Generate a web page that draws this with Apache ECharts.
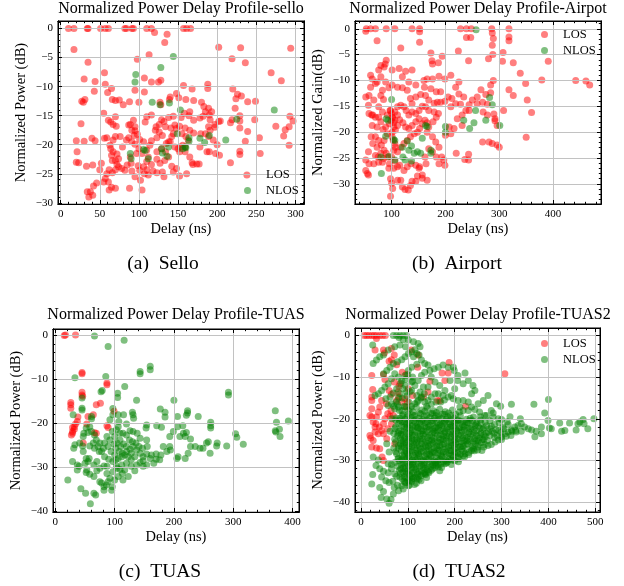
<!DOCTYPE html>
<html><head><meta charset="utf-8">
<script src="https://cdn.jsdelivr.net/npm/echarts@6/dist/echarts.min.js"></script>
<style>html,body{margin:0;padding:0;background:#fff}#c{width:624px;height:586px}</style>
</head><body><div id="c"></div><script>
// ---------------- data (delay ns, normalized power dB) ----------------
const selloLos = [[10,0],[17,0],[34,0],[35,0],[51,0],[57,0],[61,0],[82,0],[84,0],[91,0],[93,0],[110,0],[116,0],[157,0],[161,0],[166,0],
[120,-0.7],[136,-1.0],[133,-2.4],[17,-3.6],[113,-4.5],[98,-5.3],[35,-5.8],[202,-3.2],[230,-3.3],[294,-3.4],[219,-5.2],[236,-5.9],[269,-7.6],[282,-9.0],[56,-7.6],[30,-8.7],[44,-9.1],[57,-9.6],[107,-8.5],[116,-9.2],[125,-9.2],[128,-8.9],[157,-9.8],[188,-9.6],[188,-10.3],[220,-10.4],[168,-10.4],[148,-11.2],[140,-11.8],[65,-10.3],[60,-11],[43,-10.8],[95,-10.6],[107,-10.9],[27,-12.5],[31,-12.2],[29,-12.7],[66,-12.2],[70,-12.4],[75,-12.3],[80,-13.1],[88,-12.6],[100,-12.7],[127,-12.7],[128,-13.1],[139,-12.2],[151,-11.9],[160,-12.2],[170,-12.4],[180,-12.7],[183,-13.4],[189,-13.7],[226,-11.3],[231,-11.6],[224,-12.1],[223,-13.7],[239,-12.6],[249,-12.5],[248,-15.7],[229,-15.0],[229,-15.9],[229,-17.1],[293,-15.1],[297,-15.9],[292,-16.9],[275,-16.8],[287,-17.4],[285,-18.5],[292,-20.1],[239,-17.7],[236,-19.4],[254,-18.8],[255,-21.5],[238,-25.2],[229,-21.7],[229,-21.1],[217,-16.2],[219,-15.7],[204,-15.9],[202,-16],[197,-16.5],[191,-15.7],[190,-14.9],[193,-14.3],[185,-14.3],[178,-15.4],[182,-15.1],[170,-15.8],[164,-15],[165,-14.3],[158,-14.6],[154,-15.3],[144,-15.1],[138,-15.3],[132,-16],[129,-15.7],[126,-16.5],[122,-16.9],[116,-14.9],[110,-15.2],[134,-16.9],[141,-17.1],[146,-16.6],[152,-16.8],[159,-17.1],[165,-17.5],[170,-18],[179,-18.1],[185,-18.1],[189,-18.6],[191,-17.5],[195,-19.2],[200,-20],[198,-21.5],[203,-21.8],[217,-23.1],[190,-21.2],[187,-21.2],[168,-23.1],[174,-23.3],[177,-23.3],[165,-22.1],[159,-21.2],[152,-21.2],[150,-20.7],[146,-20.4],[140,-19.5],[135,-19.8],[130,-18.4],[126,-17.8],[121,-17.5],[123,-18.8],[116,-19.3],[114,-20.1],[110,-20.9],[106,-19.5],[101,-19.1],[98,-18.2],[95,-17.6],[95,-16.9],[108,-16.1],[93,-15.8],[89,-16.5],[87,-18.8],[91,-19.5],[95,-19.9],[100,-20.7],[104,-21.5],[112,-22.1],[116,-23.4],[123,-22.5],[127,-23.2],[133,-22.7],[138,-22.1],[142,-23.7],[144,-24.7],[148,-24.1],[152,-25.4],[161,-25],[169,-23.4],[130,-24.7],[132,-25.5],[123,-24.8],[118,-24.5],[112,-25.2],[107,-25],[102,-26.1],[106,-23.8],[110,-24.3],[104,-27.8],[95,-25.5],[91,-24.5],[88,-27.5],[85,-23.5],[82,-24.4],[78,-24.1],[74,-23.8],[72,-23.4],[70,-24.3],[66,-24.8],[62,-24.3],[59,-25],[57,-25.8],[61,-26.4],[62,-27.8],[65,-27.3],[70,-27.5],[55,-26.4],[52,-23.2],[50,-24.3],[46,-26.6],[42,-27.1],[38,-28.1],[34,-28.1],[36,-29],[41,-28.7],[33,-23.7],[41,-23.5],[20,-23],[23,-23.1],[21,-21.2],[20,-19.3],[30,-19.4],[40,-18.9],[44,-19.3],[26,-16.4],[55,-14.6],[56,-18.9],[59,-18.8],[67,-19.2],[70,-18.6],[63,-20.1],[64,-20.7],[67,-21.2],[72,-21.6],[74,-22.4],[79,-20.4],[70,-22.7],[66,-22.7],[65,-21.8],[61,-15.8],[64,-16.1],[67,-16.5],[71,-16.8],[70,-15.2],[87,-16.6],[91,-17.5],[94,-18.4],[76,-18.6],[84,-19.2],[89,-22.1],[90,-23.2],[97,-21.5],[99,-23.6],[101,-24.4],[110,-22.9],[123,-21.2],[129,-20.7],[134,-21.2],[138,-19.5],[142,-18.6],[144,-18.1],[148,-17.2],[155,-18.1],[160,-18.6],[163,-19.2],[156,-20.1],[153,-20.4],[159,-20.4],[178,-20.4],[189,-16.9],[197,-17]];
const selloNlos = [[144,-4.8],[128,-6.7],[96,-7.9],[95,-9.2],[117,-12.7],[139,-12.8],[127,-13.1],[153,-14],[273,-14],[225,-15.6],[149,-18.1],[190,-18.4],[178,-18.9],[184,-19.6],[164,-18.8],[164,-19.4],[211,-19.2],[159,-20.4],[156,-20.7],[138,-20.4],[129,-20.7],[130,-21.4],[106,-20.8],[108,-21],[89,-21.5],[90,-22.4],[112,-22.4],[136,-22],[160,-20.5]];

const airportLos = [[53,0],[61,0],[70,0],[90,0],[106,0],[138,0],[152,0],[228,0],[239,0],[248,0],[286,0],[318,0],
[52,-0.5],[152,-0.6],[73,-2.3],[152,-2.6],[117,-3.7],[239,-1.7],[247,-1.7],[287,-0.8],[289,-1.9],[318,-1.6],[318,-2.3],[287,-3.2],[224,-4.3],[173,-4.7],[194,-5.3],[243,-6.2],[175,-6.2],[187,-6.6],[280,-5.8],[288,-5],[307,-4.6],[306,-6.3],[326,-6.6],[391,-6.3],[339,-8.6],[379,-9.9],[349,-10.6],[352,-13.8],[360,-16.2],[350,-21],[442,-10],[461,-10.1],[468,-10.9],[318,-11.8],[326,-12.9],[308,-15.8],[300,-22.9],[287,-22.2],[290,-16.5],[292,-17.8],[289,-10],[284,-10.9],[266,-11.8],[275,-12.7],[284,-12.4],[259,-13.2],[250,-13.8],[244,-14.7],[234,-13.2],[225,-12.6],[219,-11.3],[225,-10.3],[210,-9],[199,-9.7],[188,-9.2],[176,-9.7],[166,-9.7],[161,-11.3],[173,-11.6],[183,-12.2],[191,-12.2],[199,-14],[191,-14.2],[185,-14.2],[179,-14.4],[169,-13.8],[163,-12.9],[154,-12.7],[145,-13.2],[135,-13.5],[138,-14.5],[129,-11.9],[120,-11.4],[111,-11.3],[101,-10.9],[95,-11.4],[89,-10.3],[83,-11.9],[80,-12.9],[85,-13.7],[76,-15.1],[67,-13.8],[58,-12.9],[52,-13.2],[57,-14.8],[65,-16.7],[76,-17.1],[83,-16.1],[92,-16.7],[98,-15.8],[101,-17.1],[106,-17.7],[111,-18.7],[96,-18.4],[104,-19],[101,-20],[92,-20.3],[84,-19.5],[73,-19],[62,-20.9],[70,-20.9],[76,-21.6],[81,-22.5],[73,-22.9],[65,-22.2],[57,-23.8],[52,-25.4],[58,-26.1],[52,-27.4],[55,-28],[57,-28.3],[67,-26.1],[76,-25.8],[83,-25.8],[85,-25.1],[92,-24.8],[95,-27],[98,-29],[100,-29.9],[102,-30.9],[98,-32.4],[111,-29.3],[117,-29.3],[120,-30.6],[125,-31.1],[131,-31.2],[135,-30.3],[138,-29.5],[145,-29.5],[148,-28.5],[151,-27],[157,-28.9],[152,-26.7],[145,-26.4],[136,-26.1],[129,-26.7],[123,-27.4],[115,-26.4],[111,-23.8],[117,-22.9],[123,-22.2],[129,-21.6],[135,-20.9],[142,-20.3],[148,-20],[152,-19.3],[157,-18.4],[162,-17.7],[166,-18.2],[169,-19],[177,-18],[183,-17.1],[187,-16.4],[179,-16.1],[169,-15.8],[163,-15.1],[157,-15],[151,-15.8],[145,-16.4],[138,-16.1],[132,-16.7],[127,-15.8],[123,-15.1],[117,-14.8],[111,-15.1],[106,-16.1],[111,-16.7],[115,-17.6],[121,-18.2],[126,-19],[132,-19.3],[138,-18.7],[145,-18],[151,-17.4],[166,-20],[176,-20.9],[182,-21.9],[188,-22.9],[193,-24.8],[197,-25.4],[199,-26.4],[188,-26.1],[183,-24.8],[176,-23.8],[169,-23.2],[162,-24.8],[164,-26.1],[166,-29.3],[157,-28.3],[207,-19],[216,-19.3],[222,-17.4],[231,-18.7],[210,-20.3],[200,-20.6],[220,-24.1],[243,-24.3],[236,-25.3],[243,-25.4],[269,-21.9],[281,-21.9],[296,-22.5],[238,-15.8],[244,-15.8],[231,-16.7],[210,-15.1],[219,-14.5],[228,-14.6],[212,-13.5],[205,-13.2],[259,-14.5],[269,-14.2],[278,-14.6],[270,-16.1],[278,-16.7],[292,-17.4],[296,-18.7],[97,-15.8],[100,-16.4],[102,-17.2],[99,-17.8],[104,-18.2],[107,-19.6],[101,-20.9],[103,-21.6],[106,-22.2],[107,-22.9],[104,-23.5],[100,-24.8],[106,-25.6],[111,-26.7],[104,-27],[96,-26.1],[90,-24.1],[86,-23.5],[80,-24.1],[75,-24.8],[70,-24.5],[86,-21.6],[89,-19],[80,-18],[70,-17.1],[64,-18.7],[63,-16.7],[58,-16.4],[73,-10.3],[80,-9.3],[76,-8],[86,-7.4],[88,-6.8],[90,-6.1],[80,-7.1],[61,-9],[64,-9.7],[70,-10.6],[61,-11.3],[101,-8],[114,-7.7],[126,-8.2],[138,-8],[120,-9.3],[132,-10.3],[145,-10.9],[160,-10],[176,-6.8]];
const airportNlos = [[100,-13.7],[90,-17.4],[93,-17.7],[89,-20.8],[106,-21.6],[120,-22.9],[129,-21.7],[137,-22.7],[142,-24.1],[154,-24.1],[148,-23.8],[132,-23.5],[157,-21.2],[163,-18.7],[166,-18.9],[173,-23.5],[173,-24.1],[121,-24.8],[125,-25.4],[137,-25.6],[106,-25.4],[95,-24.7],[80,-24.8],[81,-28],[200,-18.9],[200,-20],[234,-17.7],[245,-19.3],[253,-18.2],[256,-15.8],[275,-17.7],[282,-13.3],[287,-14.7],[301,-18.7],[257,-0.2],[104,-21.4]];

const tuasLos = [[15,-0.1],[17,0],[34,0],[45,-8.5],[45,-8.8],[45,-13],[45,-13.6],[46,-13.9],[26,-15.3],[26,-15.8],[26,-16.6],[29,-21.9],[29,-22.3],[27,-22.7],[32,-20.8],[34,-20.2],[37,-19.6],[32,-21.4],[38,-18.6],[55,-18.5],[64,-18.1],[69,-15.8],[76,-15.5],[69,-22.3],[53,-20.2],[47,-24.5],[87,-10.9],[87,-11.3],[99,-17.3],[87,-20.6],[89,-21],[66,-22.2],[29,-21]];
const tuasNlos = [[66,-0.2],[116,-1.2],[89,-2.6],[33,-9.7],[85,-9.4],[79,-12.6],[77,-12.9],[117,-11.7],[105,-13.2],[105,-14.2],[45,-14.3],[45,-16.6],[45,-17],[30,-18.1],[61,-18.5],[61,-19],[97,-16.7],[97,-18.1],[92,-19.2],[106,-18.1],[107,-19.6],[115,-18.1],[106,-20.8],[120,-20.2],[130,-17.5],[131,-18.1],[132,-18.9],[137,-14.8],[143,-8.3],[143,-8.8],[160,-7.1],[160,-7.9],[177,-16.8],[185,-17.5],[185,-18.6],[200,-14.8],[206,-18.5],[206,-20.8],[221,-18.2],[223,-17.7],[223,-17.2],[241,-18.5],[262,-19.8],[262,-20.6],[262,-21.1],[292,-13],[292,-13.6],[304,-22.4],[306,-23.2],[317,-24.8],[371,-17.2],[373,-19.8],[371,-21.7],[372,-22],[378,-21.4],[379,-23],[393,-19.5],[215,-20.6],[216,-22.3],[219,-23],[221,-22.1],[228,-23.6],[228,-25.3],[224,-26.8],[210,-23],[207,-27.6],[205,-28],[219,-28],[236,-25.3],[244,-25.7],[249,-25.7],[258,-24.2],[255,-24.5],[261,-26.8],[272,-25.2],[273,-24.5],[289,-25.2],[199,-21.9],[193,-23],[193,-25.3],[194,-26.1],[188,-26.4],[182,-25.3],[178,-27.2],[176,-28.3],[170,-27],[170,-28.2],[162,-27.2],[160,-28],[166,-29.1],[155,-25.3],[154,-29.5],[148,-29.8],[153,-21.1],[154,-20.4],[171,-20.6],[179,-20.9],[154,-23.8],[143,-23.4],[138,-22.3],[131,-21.9],[126,-21.7],[120,-22.7],[114,-22.3],[109,-22.3],[103,-21.5],[100,-23],[96,-21.9],[92,-23.8],[87,-23],[83,-24.5],[75,-24.5],[72,-25.3],[66,-25.7],[64,-24.5],[58,-25.2],[47,-26.4],[52,-28],[55,-28.7],[53,-30.6],[52,-31.2],[50,-29.1],[40,-29.8],[37,-30.6],[29,-28.7],[31,-25.7],[33,-24.9],[21,-32.9],[43,-34.9],[51,-35.9],[65,-35.9],[68,-36.3],[59,-38.3],[58,-31.6],[65,-32.1],[70,-30.8],[70,-28.7],[75,-33.3],[78,-33.6],[82,-34.4],[86,-34],[82,-35.2],[89,-33.3],[92,-32.5],[96,-34.4],[95,-35.2],[100,-32.9],[106,-32.1],[113,-31.4],[114,-32.9],[123,-32.1],[117,-30.6],[109,-30.5],[103,-29.7],[97,-28.7],[87,-29.8],[82,-29.7],[87,-31.4],[97,-31],[104,-30.2],[112,-29.5],[120,-29.1],[128,-29.8],[134,-30.8],[137,-29.5],[143,-28.9],[148,-28.5],[128,-28.3],[123,-27.6],[117,-27.2],[113,-26.8],[108,-26.4],[102,-25.7],[99,-24.7],[104,-24.5],[110,-25.3],[115,-24.7],[120,-25.3],[126,-25.9],[131,-25.3],[137,-26.1],[143,-26.8],[148,-27.6],[154,-27],[134,-27.6],[128,-26.8],[125,-23.8],[130,-24.2],[136,-24.5],[141,-25.3],[147,-25.7],[109,-23.8],[112,-27.6],[120,-26.4],[106,-28],[102,-28.3],[90,-28.2],[83,-27.6],[78,-26.4],[81,-25.7],[55,-22.1],[52,-21.1],[58,-20.8],[61,-21.9],[66,-22.7],[69,-23.8],[74,-26.4],[47,-23],[41,-24.5],[37,-29.5],[46,-25.2],[48,-22.3],[57,-28],[65,-29.5],[75,-30.2],[100,-27.2],[94,-26.4],[89,-25.3]];

const tuas2Los = [[7,0],[12,0],[17,0],[23,0],[28,0],[33,0],[40,0],[46,0],[52,0],[33,-0.7],[30,-3.5],[48,-3.5],[50,-4.2],[65,-3.1],[65,-5.8],[71,-4.7],[60,-6.2],[76,-7],[88,-8.8],[97,-9.3],[23,-9.6],[48,-9.4],[51,-10.6],[25,-13],[23,-14.8],[23,-15.6],[23,-17.6],[19,-19.2],[23,-19.6],[26,-20.8],[30,-22],[19,-24],[21,-24.6],[26,-25.2],[23,-26.8],[33,-27],[40,-27.2],[45,-29.2],[48,-30],[37,-23.6],[44,-22.8],[48,-21.2],[51,-20],[57,-18.8],[62,-19.4],[69,-19.2],[64,-18],[54,-16.4],[44,-15.6],[40,-17.2],[37,-18.4],[33,-19.6],[32,-21.2],[39,-22],[48,-23.6],[55,-24.8],[57,-22.4],[65,-21.2],[76,-15.6],[81,-14.8],[87,-16],[94,-15.2],[79,-13.6],[81,-12.2],[71,-11.2],[60,-13.2],[65,-14.1],[97,-17.2],[101,-12.8],[147,-11],[179,-10.8],[173,-9],[188,-6.5],[186,-9],[163,-15.6],[168,-15.7],[223,-17],[307,-9.2],[143,-13.6],[133,-14.8],[110,-14.4],[121,-7.6],[122,-4.7],[107,-3.5],[83,-11.6],[99,-16],[72,-26],[30,-23.2]];
const tuas2Nlos = [[69,0],[76,0],[83,0],[90,0],[97,0],[81,-0.5],[90,-1],[101,-1.1],[112,-1.5],[122,-1.9],[126,-2.7],[115,-3.4],[108,-3.9],[101,-4.3],[94,-5.1],[87,-5.8],[78,-6.3],[69,-6.7],[62,-7.6],[55,-8.4],[48,-9.2],[25,-2.3],[26,-6.7],[33,-5.9],[40,-5.1],[48,-4.7],[58,-3.5],[72,-2.7],[83,-2.3],[95,-2.7],[112,-5.1],[119,-4.3],[124,-4.7],[129,-5.9],[136,-6.7],[143,-7.1],[119,-6.9],[108,-7.6],[101,-8.4],[94,-9.6],[87,-10.8],[80,-10],[72,-9.2],[65,-10.4],[58,-11.6],[51,-12.4],[44,-13.2],[37,-14],[30,-14.4],[110,-10],[108,-11.2],[115,-12],[122,-10.8],[129,-9.6],[136,-8.8],[147,-8.4],[156,-8],[165,-7.6],[175,-7.1],[186,-7.6],[197,-7.6],[199,-8.4],[207,-9.6],[190,-10.8],[206,-10.8],[222,-9],[229,-10.8],[239,-12],[243,-13.2],[236,-14],[218,-11.6],[200,-12.8],[193,-14.4],[179,-13.2],[168,-12],[158,-11.2],[150,-10],[143,-12.4],[133,-12.4],[126,-13.6],[119,-14.4],[108,-13.2],[97,-13.6],[90,-12.8],[83,-14],[76,-12.8],[69,-13.8],[62,-14.8],[53,-15.2],[58,-16.8],[65,-16.4],[72,-17.6],[80,-17.2],[87,-18],[94,-17.2],[101,-18],[108,-17],[115,-16.4],[122,-15.6],[129,-14.8],[136,-16],[143,-15.6],[150,-14.8],[158,-14],[165,-14],[175,-14.4],[186,-14.8],[197,-15.2],[207,-15.6],[218,-15.6],[229,-16],[250,-16.4],[261,-15.6],[271,-14.4],[289,-16.4],[298,-17],[321,-16.5],[369,-16.5],[400,-15.4],[392,-18.6],[399,-20.4],[402,-22.2],[385,-23.6],[371,-24.3],[357,-22.4],[349,-22],[342,-21.2],[335,-21.6],[328,-22],[321,-22.7],[314,-23.2],[307,-23.6],[300,-24.4],[293,-25.1],[286,-25.6],[278,-26.2],[271,-26.4],[314,-21.4],[303,-22],[294,-22.8],[284,-23.5],[275,-24],[331,-23.2],[342,-23],[364,-22.7],[374,-23],[385,-22],[406,-22.4],[424,-21],[435,-22.8],[428,-23],[445,-21],[459,-22.7],[463,-21.2],[474,-20.2],[476,-21.2],[484,-22.4],[497,-20],[467,-20.8],[293,-20],[282,-19.6],[264,-19.2],[278,-18],[253,-18.4],[243,-17.8],[236,-17.2],[229,-18],[218,-18],[211,-17.2],
[40,-36.5],[48,-37.5],[43,-38.9],[55,-39.3],[60,-40.3],[64,-39.4],[69,-38.1],[23,-35.7],[25,-33.4],[44,-34],[53,-34.9],[60,-35.3],[40,-32],[48,-32.6],[32,-31.2],[26,-29.2],[37,-29.9],[58,-30.8],[65,-32],[72,-33.3],[83,-34],[94,-35.3],[101,-36.1],[90,-36.9],[80,-37.3],[71,-36.5],[87,-36.1],[104,-34.9],[108,-34.5],[122,-34],[136,-33.3],[150,-32.4],[165,-31.6],[179,-30.8],[193,-29.9],[207,-29.2],[222,-28.4],[236,-27.6],[250,-26.8],[264,-26.2],
[105,-17.6],[118,-17.2],[130,-17.9],[142,-17.4],[155,-18.1],[168,-17.7],[180,-18.3],[195,-17.9],[210,-18.4],
[75,-19.8],[88,-19.3],[98,-19.6],[110,-19.1],[123,-19.9],[135,-19.4],[147,-19.7],[160,-19.2],[172,-19.9],[185,-19.5],[198,-19.8],[212,-19.3],[225,-20.1],[240,-19.6],[255,-20.3],
[80,-21.2],[93,-20.8],[104,-21.4],[116,-20.9],[128,-21.3],[141,-20.7],[153,-21.1],[166,-21.5],[178,-20.9],[190,-21.3],[203,-20.8],[216,-21.4],[229,-21],[243,-21.6],[256,-21.1],[268,-21.7],
[72,-22.4],[85,-22.8],[97,-22.3],[108,-22.7],[121,-22.2],[133,-22.9],[146,-22.5],[158,-22.2],[170,-22.8],[183,-22.4],[196,-22.9],[209,-22.3],[221,-22.7],[234,-22.4],[247,-22.9],[260,-22.5],[272,-23.2],
[78,-24.1],[90,-23.7],[102,-24.3],[114,-23.9],[126,-24.2],[138,-23.8],[151,-24.4],[163,-23.9],[176,-24.2],[188,-23.7],[200,-24.3],[213,-24],[226,-24.5],[239,-24.1],[252,-24.6],[265,-24.3],
[74,-25.6],[86,-25.2],[96,-25.8],[107,-25.4],[119,-25.7],[131,-25.3],[143,-25.9],[156,-25.4],[168,-25.7],[181,-25.2],[193,-25.8],[205,-25.5],[218,-25.9],[231,-25.4],[244,-26],[257,-25.7],
[80,-27.1],[92,-26.8],[103,-27.3],[115,-26.9],[127,-27.2],[139,-26.7],[150,-27.4],[162,-27],[175,-27.3],[187,-26.9],[199,-27.2],[212,-26.8],[224,-27.4],[237,-27.1],[249,-27.5],
[76,-28.4],[88,-28.8],[99,-28.3],[111,-28.7],[123,-28.4],[135,-28.9],[146,-28.5],[158,-28.2],[170,-28.8],[182,-28.4],[194,-28.7],[206,-28.3],[218,-28.9],[230,-28.6],
[82,-30.1],[94,-29.7],[105,-30.3],[117,-29.9],[129,-30.2],[141,-29.8],[152,-30.4],[164,-30],[176,-30.3],[188,-29.8],[200,-30.1],
[78,-31.4],[90,-31.8],[101,-31.3],[113,-31.7],[125,-31.4],[137,-31.9],[149,-31.5],[160,-31.2],[172,-31.7],
[84,-33.1],[96,-32.8],[108,-33.3],[120,-32.9],[132,-33.2],[144,-32.7],
[88,-34.4],[100,-34.8],[112,-34.3],[124,-34.6],
[111,-18.4],[124,-18.6],[136,-18.2],[149,-18.8],[161,-18.5],[174,-18.9],[187,-18.6],[202,-19],
[82,-20.4],[94,-20.1],[104,-20.5],[117,-20.2],[129,-20.6],[141,-20.3],[154,-20.5],[166,-20.1],[179,-20.6],[191,-20.2],[205,-20.5],[218,-20.8],[232,-20.4],[247,-20.9],
[74,-21.9],[87,-21.6],[99,-22],[110,-21.7],[122,-22.1],[135,-21.8],[147,-21.6],[160,-22],[172,-21.7],[184,-22.1],[197,-21.8],[210,-22.1],[222,-21.6],[236,-22],[250,-21.8],[262,-22.2],
[79,-23.4],[91,-23.1],[103,-23.5],[115,-23.2],[127,-23.6],[140,-23.1],[152,-23.4],[164,-23],[177,-23.5],[190,-23.2],[202,-23.6],[215,-23.2],[228,-23.6],[241,-23.3],[254,-23.8],[267,-23.5],
[72,-24.9],[84,-24.6],[96,-25],[108,-24.7],[120,-25.1],[132,-24.8],[145,-25.2],[157,-24.7],[170,-25],[182,-24.6],[194,-25.1],[207,-24.8],[220,-25.2],[233,-24.9],[246,-25.3],[259,-25],
[80,-26.4],[91,-26.1],[102,-26.5],[113,-26.2],[125,-26.6],[137,-26.3],[149,-26.1],[162,-26.5],[174,-26.2],[187,-26.6],[199,-26.3],[211,-26.7],[224,-26.2],[237,-26.6],[250,-26.3],
[74,-27.9],[86,-27.6],[97,-28],[109,-27.7],[121,-28.1],[133,-27.8],[145,-27.5],[156,-27.9],[168,-27.6],[181,-28],[193,-27.7],[205,-28.1],[218,-27.8],[230,-28.1],[242,-27.7],
[80,-29.4],[92,-29.1],[103,-29.5],[114,-29.2],[126,-29.6],[138,-29.3],[150,-29],[161,-29.4],[173,-29.1],[185,-29.5],[197,-29.2],[209,-29.6],[221,-29.1],
[86,-30.9],[98,-30.6],[110,-31],[122,-30.7],[134,-31.1],[146,-30.8],[158,-30.5],[170,-30.9],[182,-30.6],[193,-31],
[82,-32.4],[94,-32.1],[105,-32.5],[117,-32.2],[129,-32.6],[141,-32.3],[153,-32],
[92,-33.9],[104,-33.6],[116,-34],[128,-33.7],[138,-33.4],
[96,-35.4],[108,-35.1],[118,-35.5],
[100,-18.9],[114,-19.2],[127,-18.8],[140,-19.1],[152,-18.7],[165,-19.3],[178,-18.9],[191,-19.2],
[88,-20.7],[101,-20.9],[113,-20.5],[125,-20.8],[137,-21],[150,-20.6],[162,-20.9],[175,-21.1],[188,-20.7],[200,-21],[213,-20.6],[226,-20.9],[238,-20.5],
[92,-22],[104,-22.3],[116,-21.9],[128,-22.4],[140,-22.1],[153,-22.6],[165,-22.2],[177,-22.5],[190,-22],[202,-22.4],[215,-22.8],[228,-22.2],[241,-22.6],[254,-22.3],
[85,-23.8],[97,-23.5],[109,-23.9],[121,-23.4],[133,-23.7],[146,-24],[158,-23.5],[170,-23.8],[183,-24.1],[195,-23.6],[208,-23.9],[221,-24.2],[234,-23.7],[247,-24],
[90,-25.3],[102,-24.9],[114,-25.3],[126,-25],[138,-25.4],[151,-25.1],[163,-25.5],[175,-25],[188,-25.4],[200,-25.1],[213,-25.5],[226,-25.2],[239,-25.6],
[86,-26.7],[97,-26.4],[108,-26.8],[120,-26.5],[132,-26.9],[144,-26.6],[156,-26.9],[168,-26.5],[180,-26.8],[193,-26.4],[205,-26.9],[218,-26.6],
[92,-28.2],[104,-27.9],[116,-28.3],[128,-28],[140,-28.4],[152,-28.1],[164,-28.4],[176,-28],[188,-28.3],[200,-27.9],[212,-28.5],
[87,-29.8],[98,-29.5],[110,-29.9],[121,-29.6],[133,-30],[145,-29.7],[157,-30.1],[169,-29.7],[181,-30],
[93,-31.3],[105,-31],[117,-31.4],[129,-31.1],[141,-31.5],[153,-31.1],[165,-31],
[89,-32.8],[100,-32.5],[112,-32.9],[124,-32.6],[136,-32.9],
[96,-34.2],[108,-34],[120,-34.4],
[83,-19.9],[96,-21.3],[107,-19.7],[119,-21.8],[131,-20.2],[144,-21.9],[157,-19.8],[169,-21.4],[182,-20.1],[194,-21.7],[207,-20.3],[220,-21.9],[233,-19.9],[245,-21.2],
[81,-23],[93,-24.6],[106,-23.2],[118,-24.8],[130,-22.9],[142,-24.5],[155,-23],[167,-24.7],[179,-23.1],[192,-24.4],[204,-22.9],[217,-24.6],[230,-23.2],[243,-24.8],[256,-23.4],
[84,-26],[95,-27.6],[106,-25.9],[118,-27.5],[129,-26],[141,-27.7],[153,-25.9],[165,-27.4],[177,-26],[190,-27.6],[202,-25.9],[215,-27.3],[227,-26],[240,-27.3],
[79,-29.6],[90,-30.6],[101,-28.9],[112,-30.4],[124,-28.8],[136,-30.5],[148,-28.9],[160,-30.6],[172,-28.9],[184,-30.4],[196,-28.8],[208,-30.3],
[85,-32],[97,-33.2],[109,-31.8],[121,-33.3],[133,-31.7],[145,-33],[157,-31.8],[168,-32.5],
[92,-35],[103,-36],[114,-35.8],[128,-34.9],[140,-34.1],
[76,-33.8],[78,-36],[72,-30.5],[70,-27],[70,-23.5],[74,-20.3],
[60,-28],[65,-31],[58,-33],[68,-35],[55,-26],[62,-23],[66,-20],[70,-17],[75,-16],[80,-15],
[275,-20.5],[285,-21.4],[295,-21],[305,-22.4],[280,-23],[290,-24],[300,-25],[270,-25.2],[262,-26.8],[258,-27.6],[312,-20.7],[320,-24],[330,-22.8],[340,-20],[268,-19.2],[282,-18.6],
[255,-19.5],[265,-20.8],[278,-21.8],[288,-22.6],[298,-23.3],[262,-23.9],[275,-22.4],[285,-24.5],[250,-25.3],[262,-25],[310,-24.2],[322,-23],[300,-20.2],[318,-19.5],
[95,-12],[98,-14.5],[102,-16],[92,-17],[88,-15],[105,-13.5],[110,-11],[100,-9.5],[95,-10.5],[85,-11.5],[78,-16.5],[82,-18],[90,-19],[120,-16],[128,-15],[135,-14],[140,-17],[150,-16.5],[160,-16],[170,-16],[178,-15.5]];

// ---------------- tick labels ----------------
const selloXTicks = [0, 50, 100, 150, 200, 250, 300];
const selloYTicks = [-30, -25, -20, -15, -10, -5, 0];
const airportXTicks = [100, 200, 300, 400];
const airportYTicks = [-30, -25, -20, -15, -10, -5, 0];
const tuasXTicks = [0, 100, 200, 300, 400];
const tuasYTicks = [-40, -30, -20, -10, 0];
const tuas2XTicks = [0, 100, 200, 300, 400, 500];
const tuas2YTicks = [-40, -30, -20, -10, 0];

// ---------------- layout ----------------
const FONT = '"Liberation Serif","DejaVu Serif","Times New Roman",serif';
const panels = [
  {title:'Normalized Power Delay Profile-sello', caption:'(a)  Sello', yName:'Normalized Power (dB)',
   rect:[58,21,246,183], x:[-3.4,311], y:[-30.2,1.3], xt:selloXTicks, yt:selloYTicks, los:selloLos, nlos:selloNlos,
   titlePos:[181,9], capPos:[163,264], legend:{left:239,top:163,hideLos:true}},
  {title:'Normalized Power Delay Profile-Airpot', caption:'(b)  Airport', yName:'Normalized Gain(dB)',
   rect:[355,21,246,183], x:[32,489], y:[-33.9,1.5], xt:airportXTicks, yt:airportYTicks, los:airportLos, nlos:airportNlos,
   titlePos:[478,9], capPos:[457,264], legend:{left:536,top:23}},
  {title:'Normalized Power Delay Profile-TUAS', caption:'(c)  TUAS', yName:'Normalized Power (dB)',
   rect:[53,329,246,183], x:[-4,411], y:[-40.15,1.36], xt:tuasXTicks, yt:tuasYTicks, los:tuasLos, nlos:tuasNlos,
   titlePos:[176,315], capPos:[160,572], legend:null},
  {title:'Normalized Power Delay Profile-TUAS2', caption:'(d)  TUAS2', yName:'Normalized Power (dB)',
   rect:[355,328,245,184], x:[-12.8,510], y:[-42.4,1.8], xt:tuas2XTicks, yt:tuas2YTicks, los:tuas2Los, nlos:tuas2Nlos,
   titlePos:[478,315], capPos:[459,572], legend:{left:536,top:332}}
];

function minorOf(ticks, range) {
  const ms = (ticks[1] - ticks[0]) / 5, out = [];
  for (let k = Math.ceil(range[0] / ms); k * ms <= range[1]; k++) out.push(Math.round(k * ms * 1000) / 1000);
  return out;
}
const fmt = v => v < 0 ? '\u2212' + Math.abs(v) : String(v);

const option = {animation:false, grid:[], xAxis:[], yAxis:[], series:[], legend:[], graphic:[]};

panels.forEach((p,i) => {
  option.grid.push({left:p.rect[0], top:p.rect[1], width:p.rect[2], height:p.rect[3],
    show:true, borderColor:'#000', borderWidth:1, backgroundColor:'rgba(0,0,0,0)'});
  const mk = (dim, pos, values, len) => {
    const r = dim === 'x' ? p.x : p.y;
    return {gridIndex:i, type:'value', min:r[0], max:r[1], position:pos,
      axisLine:{show:true, onZero:false, lineStyle:{color:'#000', width:1}},
      axisTick:{show:true, inside:true, length:len, customValues:values, lineStyle:{color:'#000', width:1}},
      minorTick:{show:false}, axisLabel:{show:false}, splitLine:{show:false}, z:3};
  };
  const lab = vals => ({show:true, customValues:vals, formatter:fmt, fontFamily:FONT, fontSize:11, color:'#000', margin:5});
  const split = {show:true, lineStyle:{color:'#c2c2c2', width:1}};
  const nameStyle = {fontFamily:FONT, fontSize:14.5, color:'#000'};
  const xMinor = minorOf(p.xt, p.x), yMinor = minorOf(p.yt, p.y);

  const xb = mk('x','bottom',p.xt,4);
  xb.axisLabel = lab(p.xt); xb.splitLine = split;
  xb.name = 'Delay (ns)'; xb.nameLocation = 'middle'; xb.nameGap = 18; xb.nameTextStyle = nameStyle;
  option.xAxis.push(xb, mk('x','bottom',xMinor,2.2), mk('x','top',p.xt,4), mk('x','top',xMinor,2.2));

  const yb = mk('y','left',p.yt,4);
  yb.axisLabel = lab(p.yt); yb.splitLine = split;
  yb.name = p.yName; yb.nameLocation = 'middle'; yb.nameGap = 29; yb.nameTextStyle = nameStyle;
  option.yAxis.push(yb, mk('y','left',yMinor,2.2), mk('y','right',p.yt,4), mk('y','right',yMinor,2.2));

  const sc = (name, data, color) => ({type:'scatter', name, data, xAxisIndex:i*4, yAxisIndex:i*4,
    symbol:'circle', symbolSize:7, itemStyle:{color, opacity:0.5, borderWidth:0},
    emphasis:{disabled:true}, silent:true, z:2});
  option.series.push(sc('LOS', p.los, '#ff0000'), sc('NLOS', p.nlos, '#008000'));

  if (p.legend) {
    option.legend.push({orient:'vertical', left:p.legend.left, top:p.legend.top, itemWidth:7, itemHeight:7,
      itemGap:3, icon:'circle', selectedMode:false,
      data: p.legend.hideLos ? [{name:'LOS', itemStyle:{opacity:0}}, 'NLOS'] : ['LOS','NLOS'],
      textStyle:{fontFamily:FONT, fontSize:12.5, color:'#000', padding:[0,0,0,10]}});
  }
  option.graphic.push({type:'text', x:p.titlePos[0], y:p.titlePos[1],
    style:{text:p.title, fontFamily:FONT, fontSize:16, fill:'#000', align:'center', verticalAlign:'middle'}});
  option.graphic.push({type:'text', x:p.capPos[0], y:p.capPos[1],
    style:{text:p.caption, fontFamily:FONT, fontSize:19.5, fill:'#000', align:'center', verticalAlign:'middle'}});
});

const chart = echarts.init(document.getElementById('c'), null, {renderer:'canvas'});
chart.setOption(option);
</script></body></html>
